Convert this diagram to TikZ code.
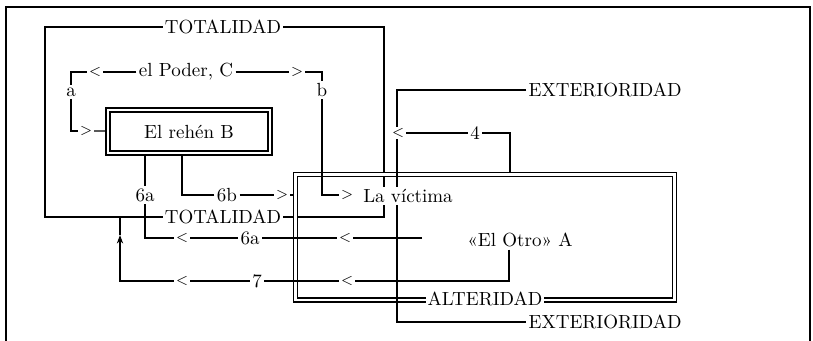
\documentclass[tikz,border=0pt]{standalone}
\usepackage{tikz}
\usetikzlibrary{arrows.meta, positioning, calc}

\begin{document}
\begin{tikzpicture}[
        x=0.5pt, y=-0.5pt,
        font=\fontsize{9.5}{11}\selectfont,
        line width=0.6pt,
        >={Stealth[length=1.5mm, width=1.1mm]},
        lab/.style={inner sep=1pt},
        wlab/.style={fill=white, inner sep=1pt},
        chev/.style={fill=white, inner sep=0.6pt, font=\fontsize{7}{8}\selectfont},
        dblbox/.style={draw, double, double distance=1.4pt, inner sep=0pt, outer sep=1.3pt},
        plainbox/.style={draw, inner sep=0pt}
    ]
    \useasboundingbox (0,0) rectangle (813,341);
    %=================== marco exterior ===================
    \draw (6,341) -- (6,7) -- (810,7) -- (810,341);

    %=================== TOTALIDAD / EXTERIORIDAD / ALTERIDAD ===================
    \node[plainbox, minimum width=169.5pt, minimum height=95pt] (totbox) at (214.5,122) {};
    \node[dblbox, minimum width=189.5pt, minimum height=62.75pt] (altbox) at (485,237.25) {};
    \node[lab, anchor=west] (ext1) at (526,90) {EXTERIORIDAD};
    \node[lab, anchor=west] (ext2) at (526,322) {EXTERIORIDAD};
    \coordinate (extN) at (397,90);
    \coordinate (extS) at (397,322);
    \draw (ext1.west) -- (extN) -- (extS) -- (ext2.west);
    \node[wlab] (tot1) at (223,27) {TOTALIDAD};
    \node[wlab] (tot2) at (223,217) {TOTALIDAD};
    \node[wlab] (alt) at (485,299) {ALTERIDAD};

    %=================== el Poder, C ===================
    \node[dblbox, minimum width=81pt, minimum height=21.5pt] (rehen) at (189,131.5) {El rehén B};
    \node[lab] (poder) at (186,72) {el Poder, C};
    \node[chev] (chA) at (95,72) {$<$};
    \node[chev] (chC) at (297,72) {$>$};
    \node[lab] (a) at (71,92) {a};
    \node[lab] (b) at (322,90) {b};
    \node[chev] (chB) at (86,131) {$>$};
    \node[chev] (chD) at (347,195) {$>$};
    \node[wlab] (victima) at (408,196) {La víctima};
    \draw (poder) -- (chA);
    \draw (chA) -| (a);
    \draw (a) |- (chB);
    \draw (chB) -- (rehen);
    \draw (poder) -- (chC);
    \draw (chC) -| (b);
    \draw (b) |- (chD);

    %=================== 4 ===================
    \node[lab] (lab4) at (475,133) {4};
    \node[chev] (ch4) at (398,133) {$<$};
    \draw (lab4) -| ($(altbox.north)+(25,0)$);
    \draw (lab4) -- (ch4);

    %=================== 6a / 6b ===================
    \node[lab] (otro) at (520,240) {«El Otro» A};
    \coordinate (o6a) at (422,238);
    \node[chev] (ch6a2) at (345,238) {$<$};
    \node[lab] (lab6a2) at (250,238) {6a};
    \node[chev] (ch6a1) at (182,238) {$<$};
    \node[lab] (lab6a1) at (145,195) {6a};
    \draw (o6a) -- (ch6a2);
    \draw (ch6a2) -- (lab6a2);
    \draw (lab6a2) -- (ch6a1);
    \draw (ch6a1) -| (lab6a1);
    \draw (lab6a1) -- (lab6a1 |- rehen.south);
    \node[lab] (lab6b) at (227,195) {6b};
    \node[chev] (ch6b) at (282,195) {$>$};
    \draw (lab6b) -| ($(rehen.south)+(-7,0)$);
    \draw (lab6b) -- (ch6b);
    \draw (ch6b) -- (ch6b -| altbox.west);

    %=================== 7 ===================
    \node[chev] (ch7b) at (347,281) {$<$};
    \node[lab] (lab7) at (257,281) {7};
    \node[chev] (ch7a) at (182,281) {$<$};
    \coordinate (arr7) at (120,235);
    \draw ($(otro.south)+(-11,0)$) |- (ch7b);
    \draw (ch7b) -- (lab7);
    \draw (lab7) -- (ch7a);
    \draw[->] (ch7a) -| (arr7);
    \draw (arr7) -- (arr7 |- totbox.south);
\end{tikzpicture}
\end{document}
